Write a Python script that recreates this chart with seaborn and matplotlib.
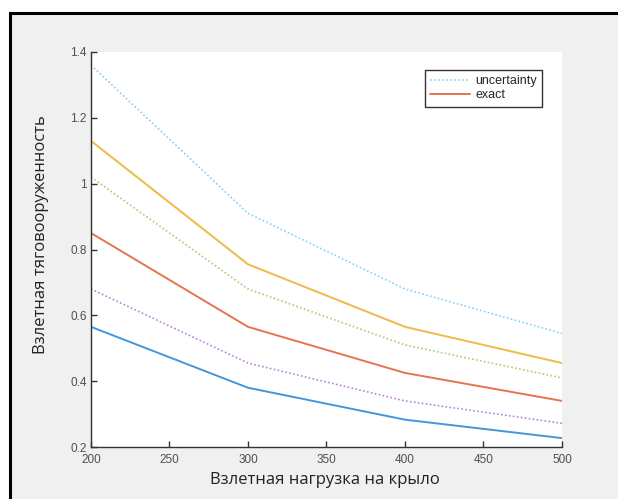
import matplotlib
matplotlib.use("Agg")
import matplotlib.pyplot as plt
from matplotlib.patches import Rectangle
from matplotlib.lines import Line2D
import seaborn as sns
import pandas as pd

# ---- data ----
x_load = [200, 300, 400, 500]
blue_solid = [0.565, 0.38, 0.283, 0.227]
orange_solid = [0.85, 0.565, 0.425, 0.34]
yellow_solid = [1.13, 0.755, 0.565, 0.455]
purple_dotted = [0.68, 0.455, 0.34, 0.272]
green_dotted = [1.02, 0.68, 0.51, 0.41]
lightblue_dotted = [1.36, 0.91, 0.68, 0.545]
x_ticks = [200, 250, 300, 350, 400, 450, 500]
y_ticks = [0.2, 0.4, 0.6, 0.8, 1.0, 1.2, 1.4]
y_tick_labels = ["0.2", "0.4", "0.6", "0.8", "1", "1.2", "1.4"]
legend_labels = ["uncertainty", "exact"]
x_label = "Взлетная нагрузка на крыло"
y_label = "Взлетная тяговооруженность"

sns.set_style("white")
plt.rcParams["font.family"] = ["Liberation Sans", "DejaVu Sans"]

fig = plt.figure(figsize=(6.18, 4.99), dpi=100, facecolor="white")
# gray panel with black frame (drawn beneath the axes)
frame = Rectangle((9.5 / 618, -0.05), 1.2, 1 - 12.5 / 499 + 0.05,
                  transform=fig.transFigure, facecolor="#f0f0f0",
                  edgecolor="black", linewidth=2.2, zorder=-10)
fig.patches.append(frame)

ax = fig.add_axes([91 / 618, 1 - 447 / 499, 471 / 618, 395 / 499])
ax.set_facecolor("white")
ax.set_zorder(1)

series = [
    (blue_solid, "#4496da", "-"),
    (orange_solid, "#e4754f", "-"),
    (yellow_solid, "#efba45", "-"),
    (purple_dotted, "#b884d0", (0, (1, 1.4))),
    (green_dotted, "#a6cf7c", (0, (1, 1.4))),
    (lightblue_dotted, "#86d1f3", (0, (1, 1.4))),
]
for vals, col, ls in series:
    df = pd.DataFrame({"x": x_load, "y": vals})
    lw = 1.4 if ls == "-" else 1.2
    sns.lineplot(data=df, x="x", y="y", ax=ax, color=col, linestyle=ls,
                 linewidth=lw)

ax.set_xlim(200, 500)
ax.set_ylim(0.2, 1.4)
ax.set_xticks(x_ticks)
ax.set_xticklabels([str(t) for t in x_ticks])
ax.set_yticks(y_ticks)
ax.set_yticklabels(y_tick_labels)
for s in ["top", "right"]:
    ax.spines[s].set_visible(False)
for s in ["left", "bottom"]:
    ax.spines[s].set_color("#333333")
    ax.spines[s].set_linewidth(1.0)
ax.tick_params(direction="in", length=4, width=1, colors="#333333",
               labelsize=8.5, labelcolor="#505050",
               left=True, bottom=True)
ax.tick_params(axis="x", pad=5)
ax.tick_params(axis="y", pad=3)

ax.set_xlabel("")
ax.set_ylabel("")
fig.text(325 / 618, 1 - 480 / 499, x_label, ha="center", va="center",
         fontsize=12, color="#222222", family=["Open Sans", "DejaVu Sans"])
fig.text(41 / 618, 1 - 235 / 499, y_label, ha="center", va="center",
         rotation=90, fontsize=12, color="#222222",
         family=["Open Sans", "DejaVu Sans"])

handles = [Line2D([], [], color="#86d1f3", linestyle=(0, (1, 1.4)), linewidth=1.2),
           Line2D([], [], color="#e4754f", linestyle="-", linewidth=1.4)]
leg = ax.legend(handles, legend_labels, loc="upper right",
                bbox_to_anchor=(542 / 618, 1 - 70 / 499),
                bbox_transform=fig.transFigure, fontsize=9, frameon=True,
                fancybox=False, framealpha=1, edgecolor="#333333",
                borderpad=0.4, handlelength=3.2, handletextpad=0.4,
                labelspacing=0.2, borderaxespad=0)
leg.get_frame().set_linewidth(1.0)

fig.savefig("out.png", dpi=100, facecolor=fig.get_facecolor())
